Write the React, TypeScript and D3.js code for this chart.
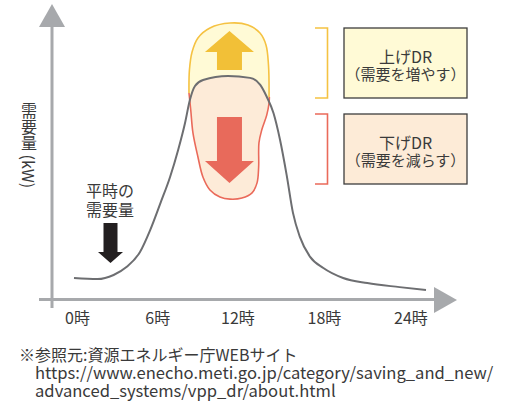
import React from 'react';
import * as d3 from 'd3';

// ---- data (hour of day, demand index) ----
const hours = [0, 1.6, 2.7, 3.6, 4.5, 5.2, 5.9, 6.55, 7.1, 7.57, 7.9, 8.25, 8.8, 10.5, 12, 12.7, 13.15, 13.6, 14.05, 14.5, 14.93, 15.4, 16.1, 17, 18.35, 20, 22.2, 24];
const demand = [7.8, 7.4, 8.9, 11.9, 17.4, 25.6, 35.6, 45.2, 55.2, 65.2, 73.7, 78.9, 81.1, 82.6, 81.9, 79.3, 74.8, 68.9, 58.9, 45.9, 31.9, 23, 15.6, 11.5, 7.8, 5.9, 4.4, 3.3];

const tickHours = [0, 6, 12, 18, 24];
const tickLabels = ['0時', '6時', '12時', '18時', '24時'];
const yAxisLabel = '需要量 (kW)';
const baseLabel = ['平時の', '需要量'];
const upLabel = ['上げDR', '（需要を増やす）'];
const downLabel = ['下げDR', '（需要を減らす）'];
const sourceLines = [
  '※参照元:資源エネルギー庁WEBサイト',
  'https://www.enecho.meti.go.jp/category/saving_and_new/',
  'advanced_systems/vpp_dr/about.html',
];

// DR envelope around the peak (hour, demand)
const upEnvelopeHours = [7.84, 7.87, 8.05, 8.45, 9.27, 10.64, 11.86, 12.68, 13.09, 13.26, 13.3];
const upEnvelopeDemand = [76.3, 84.8, 91.5, 96.7, 100.4, 102.2, 101.5, 98.5, 94.1, 86.7, 74.8];
const downEnvelopeHours = [7.84, 7.96, 8.11, 8.45, 8.79, 9.27, 9.95, 10.64, 11.45, 12.14, 12.48, 12.59, 12.61, 12.8, 13.14, 13.3, 13.32];
const downEnvelopeDemand = [76.3, 70.0, 61.5, 52.6, 45.2, 40.4, 37.8, 37.0, 37.4, 39.3, 43.0, 48.9, 57.8, 62.6, 68.1, 72.6, 74.8];

const W = 514;
const H = 401;
const FONT = '"Noto Sans CJK JP", "Noto Sans", sans-serif';
const TEXT = '#3a3a3a';
const AXIS = '#a7a9ac';
const CURVE = '#6d6e71';

export default function App() {
  const x = d3.scaleLinear().domain([0, 24]).range([74, 426]);
  const y = d3.scaleLinear().domain([0, 100]).range([299, 29]);
  const xTick = d3.scaleLinear().domain([0, 12, 24]).range([77.5, 238, 411]);

  const pts: [number, number][] = hours.map((h, i) => [h, demand[i]]);
  const line = d3.line<[number, number]>().x(d => x(d[0])).y(d => y(d[1])).curve(d3.curveMonotoneX);
  const curvePath = line(pts) || '';
  const area = d3.area<[number, number]>().x(d => x(d[0])).y0(H).y1(d => y(d[1])).curve(d3.curveMonotoneX);
  const belowPath = area(pts) || '';

  const upPts: [number, number][] = upEnvelopeHours.map((h, i) => [h, upEnvelopeDemand[i]]);
  const downPts: [number, number][] = downEnvelopeHours.map((h, i) => [h, downEnvelopeDemand[i]]);
  const smooth = d3.line<[number, number]>().x(d => x(d[0])).y(d => y(d[1])).curve(d3.curveCatmullRom);
  const upPath = smooth(upPts) || '';
  const downPath = smooth(downPts) || '';
  const fullPath = (smooth([...upPts, ...downPts.slice().reverse().slice(1)]) || '') + 'Z';

  // arrows around the peak centre
  const cx = x(10.6);
  const upArrow = d3.path();
  upArrow.moveTo(cx, 31); upArrow.lineTo(cx + 24.5, 52); upArrow.lineTo(cx + 12.5, 52); upArrow.lineTo(cx + 12.5, 70);
  upArrow.lineTo(cx - 12.5, 70); upArrow.lineTo(cx - 12.5, 52); upArrow.lineTo(cx - 24.5, 52); upArrow.closePath();
  const downArrow = d3.path();
  downArrow.moveTo(cx - 12.5, 117); downArrow.lineTo(cx + 12.5, 117); downArrow.lineTo(cx + 12.5, 161); downArrow.lineTo(cx + 24.5, 161);
  downArrow.lineTo(cx, 183); downArrow.lineTo(cx - 24.5, 161); downArrow.lineTo(cx - 12.5, 161); downArrow.closePath();
  const bx = 110.5;
  const baseArrow = d3.path();
  baseArrow.moveTo(bx - 7, 223); baseArrow.lineTo(bx + 7, 223); baseArrow.lineTo(bx + 7, 252); baseArrow.lineTo(bx + 12.5, 252);
  baseArrow.lineTo(bx, 263); baseArrow.lineTo(bx - 12.5, 252); baseArrow.lineTo(bx - 7, 252); baseArrow.closePath();

  const boxes = [
    { top: 28, label: upLabel, stroke: '#f5c242', fill: '#fffad6' },
    { top: 114, label: downLabel, stroke: '#ea6a5a', fill: '#fdebd7' },
  ];

  return (
    <svg width={W} height={H} style={{ position: 'absolute', left: 0, top: 0, background: '#fff' }} fontFamily={FONT}>
      <defs>
        <clipPath id="below">
          <path d={belowPath} />
        </clipPath>
      </defs>

      {/* axes */}
      <line x1={52} y1={26} x2={52} y2={308} stroke={AXIS} strokeWidth={3} />
      <path d="M52,4 L65,27 L39,27 Z" fill={AXIS} />
      <line x1={39} y1={299.5} x2={435} y2={299.5} stroke={AXIS} strokeWidth={3} />
      <path d="M434,287 L457,300 L434,313 Z" fill={AXIS} />

      {/* DR envelope */}
      <path d={fullPath} fill="#fffad6" />
      <path d={fullPath} fill="#fdebd8" clipPath="url(#below)" />
      <path d={upPath} fill="none" stroke="#f5c242" strokeWidth={1.6} />
      <path d={downPath} fill="none" stroke="#ea6a5a" strokeWidth={1.6} />
      <path d={upArrow.toString()} fill="#f2c037" />
      <path d={downArrow.toString()} fill="#e86a5b" />

      {/* demand curve */}
      <path d={curvePath} fill="none" stroke={CURVE} strokeWidth={2} />

      {/* baseline annotation */}
      <path d={baseArrow.toString()} fill="#231f20" />
      {baseLabel.map((t, i) => (
        <text key={t} x={110} y={190 + i * 18.5} textAnchor="middle" dominantBaseline="central" fontSize={16} fill={TEXT}>{t}</text>
      ))}

      {/* y label */}
      <text x={29} y={103} fontSize={16} fill={TEXT} style={{ writingMode: 'vertical-rl' }}>{yAxisLabel}</text>

      {/* x tick labels */}
      {tickHours.map((h, i) => (
        <text key={h} x={xTick(h)} y={316.5} textAnchor="middle" dominantBaseline="central" fontSize={16} fill={TEXT}>{tickLabels[i]}</text>
      ))}

      {/* brackets and boxes */}
      {boxes.map(b => (
        <g key={b.top}>
          <path d={`M315,${b.top} H327.5 V${b.top + 70} H315`} fill="none" stroke={b.stroke} strokeWidth={1.6} />
          <rect x={344} y={b.top} width={123} height={70} fill={b.fill} stroke="#3d3d3d" strokeWidth={1.3} />
          {b.label.map((t, i) => (
            <text key={t} x={405.5} y={b.top + 27.5 + i * 18} textAnchor="middle" dominantBaseline="central" fontSize={i === 0 ? 16 : 15} fill={TEXT}>{t}</text>
          ))}
        </g>
      ))}

      {/* source */}
      {sourceLines.map((t, i) => (
        <text key={t} x={i === 0 ? 19 : 35} y={353.5 + i * 18.3} dominantBaseline="central" fontSize={i === 0 ? 16 : 16.6} fill={TEXT}>{t}</text>
      ))}
    </svg>
  );
}
